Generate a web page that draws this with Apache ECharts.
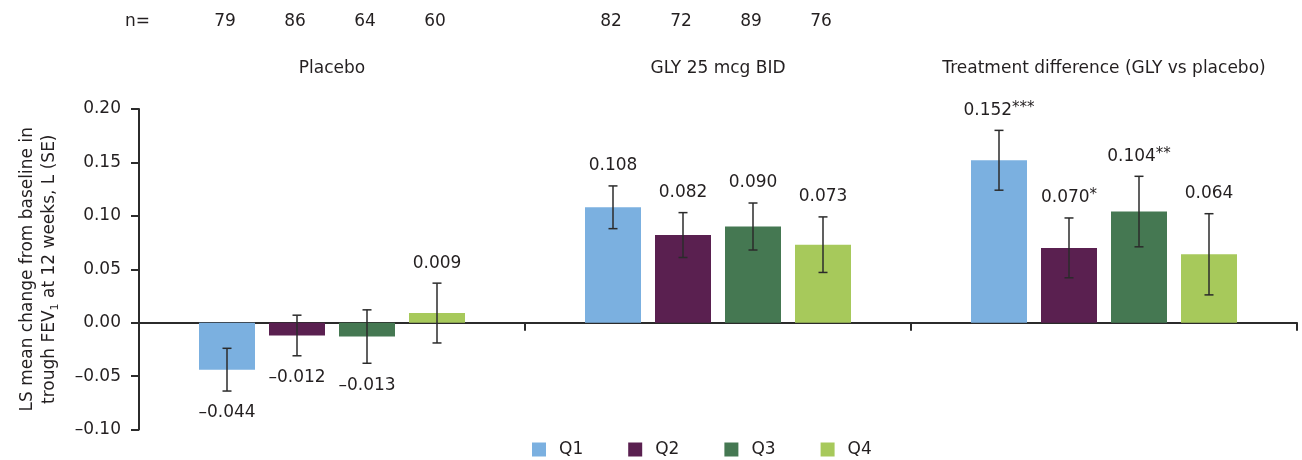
<!DOCTYPE html>
<html>
<head>
<meta charset="utf-8">
<script src="https://cdn.jsdelivr.net/npm/echarts@6/dist/echarts.min.js"></script>
<style>
  html, body { margin: 0; padding: 0; background: #ffffff; }
  #chart { width: 1302px; height: 460px; }
</style>
</head>
<body>
<div id="chart"></div>
<script>
// Treatment groups along the x axis
const groups = ['Placebo', 'GLY 25 mcg BID', 'Treatment difference (GLY vs placebo)'];
const quartiles = ['Q1', 'Q2', 'Q3', 'Q4'];

// LS mean change from baseline (L), one value per group
const q1Mean = [-0.044, 0.108, 0.152];
const q2Mean = [-0.012, 0.082, 0.070];
const q3Mean = [-0.013, 0.090, 0.104];
const q4Mean = [0.009, 0.073, 0.064];

// Standard errors
const q1SE = [0.020, 0.020, 0.028];
const q2SE = [0.019, 0.021, 0.028];
const q3SE = [0.025, 0.022, 0.033];
const q4SE = [0.028, 0.026, 0.038];

// Significance markers on the treatment difference
const q1Sig = ['', '', '***'];
const q2Sig = ['', '', '*'];
const q3Sig = ['', '', '**'];
const q4Sig = ['', '', ''];

// Patients per quartile (none for the difference)
const q1N = [79, 82, null];
const q2N = [86, 72, null];
const q3N = [64, 89, null];
const q4N = [60, 76, null];

// Value axis range and step
const yMin = -0.10;
const yMax = 0.20;
const yStep = 0.05;

const means = [q1Mean, q2Mean, q3Mean, q4Mean];
const ses = [q1SE, q2SE, q3SE, q4SE];
const sigs = [q1Sig, q2Sig, q3Sig, q4Sig];
const ns = [q1N, q2N, q3N, q4N];
const colors = ['#7bb0e0', '#5a2050', '#457852', '#a7c95b'];

const FONT = 'DejaVu Sans, Liberation Sans, Arial, sans-serif';
const TEXT = '#231f20';
const AXIS = '#2b2b2b';
const BAR_W = 56;
const BAR_GAP = 0.25;

function fmt(v) {
  if (Math.abs(v) < 1e-9) return '0.00';
  return (v < 0 ? '\u2013' : '') + Math.abs(v).toFixed(2);
}
function fmt3(v) {
  return (v < 0 ? '\u2013' : '') + Math.abs(v).toFixed(3);
}

// Centre offset of quartile bar qi inside its category
function barOffset(qi) {
  const step = BAR_W * (1 + BAR_GAP);
  return (qi - (quartiles.length - 1) / 2) * step;
}

function makeRender(qi) {
  return function (params, api) {
    const cat = api.value(0);
    const mean = api.value(1);
    const se = api.value(2);
    const x = api.coord([cat, mean])[0] + barOffset(qi);
    const yHi = api.coord([cat, mean + se])[1];
    const yLo = api.coord([cat, mean - se])[1];
    const cap = 4.5;
    const stroke = { stroke: AXIS, lineWidth: 1.5 };
    const children = [
      { type: 'line', shape: { x1: x, y1: yHi, x2: x, y2: yLo }, style: stroke },
      { type: 'line', shape: { x1: x - cap, y1: yHi, x2: x + cap, y2: yHi }, style: stroke },
      { type: 'line', shape: { x1: x - cap, y1: yLo, x2: x + cap, y2: yLo }, style: stroke }
    ];
    const sig = sigs[qi][params.dataIndex];
    const labelY = mean >= 0 ? yHi - 20 : yLo + 22;
    children.push({
      type: 'text',
      x: x,
      y: labelY,
      style: {
        text: '{v|' + fmt3(mean) + '}' + (sig ? '{s|' + sig + '}' : ''),
        rich: {
          v: { fontSize: 17, fontFamily: FONT, fill: TEXT, lineHeight: 20 },
          s: { fontSize: 15, fontFamily: FONT, fill: TEXT, lineHeight: 15, verticalAlign: 'top' }
        },
        align: 'center',
        verticalAlign: 'middle'
      }
    });
    const n = ns[qi][params.dataIndex];
    if (n !== null) {
      const topY = api.coord([cat, yMax])[1];
      children.push({
        type: 'text',
        x: x - 2,
        y: topY - 87,
        style: {
          text: String(n), fontSize: 17, fontFamily: FONT, fill: TEXT,
          align: 'center', verticalAlign: 'middle'
        }
      });
    }
    return { type: 'group', children: children };
  };
}

const barSeries = quartiles.map((q, qi) => ({
  name: q,
  type: 'bar',
  data: means[qi],
  barWidth: BAR_W,
  barGap: (BAR_GAP * 100) + '%',
  itemStyle: { color: colors[qi] },
  z: 2
}));

const errSeries = quartiles.map((q, qi) => ({
  name: q + ' SE',
  type: 'custom',
  renderItem: makeRender(qi),
  encode: { x: 0, y: 1 },
  data: means[qi].map((m, gi) => [gi, m, ses[qi][gi]]),
  z: 5,
  silent: true
}));

const chart = echarts.init(document.getElementById('chart'));
chart.setOption({
  animation: false,
  backgroundColor: '#ffffff',
  textStyle: { fontFamily: FONT, color: TEXT },
  grid: { left: 139, right: 5, top: 109, bottom: 30.5, containLabel: false },
  legend: {
    data: quartiles,
    left: 532,
    top: 441,
    padding: 0,
    icon: 'rect',
    itemWidth: 14,
    itemHeight: 14,
    itemGap: 45,
    textStyle: { fontSize: 17, fontFamily: FONT, color: TEXT, padding: [0, 0, 0, 8] },
    selectedMode: false
  },
  graphic: [
    {
      type: 'text', left: 125, top: 13,
      style: { text: 'n=', fontSize: 17, fontFamily: FONT, fill: TEXT }
    }
  ],
  xAxis: [
    {
      type: 'category',
      data: groups,
      axisLine: { show: true, onZero: true, lineStyle: { color: AXIS, width: 2 } },
      axisTick: { show: true, length: 8, lineStyle: { color: AXIS, width: 2 } },
      axisLabel: { show: false },
      splitLine: { show: false }
    },
    {
      type: 'category',
      data: groups,
      position: 'top',
      axisLine: { show: false },
      axisTick: { show: false },
      axisLabel: { margin: 32, fontSize: 17, fontFamily: FONT, color: TEXT, interval: 0 },
      splitLine: { show: false }
    }
  ],
  yAxis: {
    type: 'value',
    min: yMin,
    max: yMax,
    interval: yStep,
    axisLine: { show: true, lineStyle: { color: AXIS, width: 2 } },
    axisTick: { show: true, length: 8, lineStyle: { color: AXIS, width: 2 } },
    splitLine: { show: false },
    axisLabel: { margin: 18, fontSize: 17, fontFamily: FONT, color: TEXT, formatter: fmt },
    name: '{a|LS mean change from baseline in}\n{a|trough FEV}{b|1}{a| at 12 weeks, L (SE)}',
    nameLocation: 'middle',
    nameRotate: 90,
    nameGap: 78,
    nameTextStyle: {
      rich: {
        a: { fontSize: 17, fontFamily: FONT, color: TEXT, lineHeight: 22 },
        b: { fontSize: 11, fontFamily: FONT, color: TEXT, lineHeight: 11, verticalAlign: 'bottom' }
      }
    }
  },
  series: barSeries.concat(errSeries)
});
</script>
</body>
</html>
